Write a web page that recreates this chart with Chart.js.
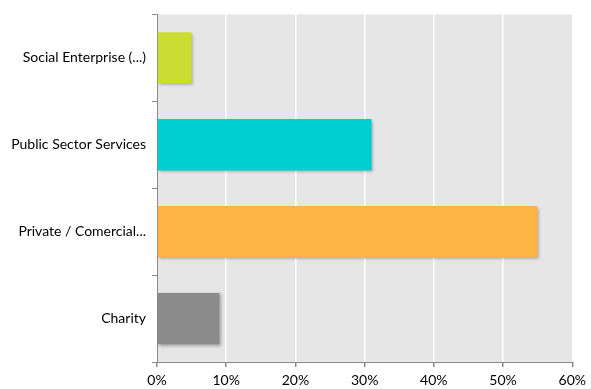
<!DOCTYPE html>
<html>
<head>
<meta charset="utf-8">
<script src="https://cdn.jsdelivr.net/npm/chart.js@4"></script>
<style>
  html, body { margin: 0; padding: 0; background: #fff; }
  #wrap { width: 591px; height: 389px; }
</style>
</head>
<body>
<div id="wrap"><canvas id="chart" width="591" height="389"></canvas></div>
<script>
const categories = ['Social Enterprise (...)', 'Public Sector Services', 'Private / Comercial...', 'Charity'];
const shares = [5, 31, 55, 9];
const barColors = ['#cbdc33', '#00cfcf', '#fdb443', '#8b8b8b'];
const xTicks = [0, 10, 20, 30, 40, 50, 60];

// grey plot background behind the grid
const plotBackground = {
  id: 'plotBackground',
  beforeDraw(chart) {
    const { ctx, chartArea: a } = chart;
    ctx.save();
    ctx.fillStyle = '#e6e6e6';
    ctx.fillRect(a.left, a.top, a.right - a.left, a.bottom - a.top);
    ctx.restore();
  }
};

// soft drop shadow under the bars
const barShadow = {
  id: 'barShadow',
  beforeDatasetsDraw(chart) {
    const ctx = chart.ctx;
    ctx.save();
    ctx.shadowColor = 'rgba(0,0,0,0.3)';
    ctx.shadowOffsetX = 1.5;
    ctx.shadowOffsetY = 1.5;
    ctx.shadowBlur = 3;
  },
  afterDatasetsDraw(chart) {
    chart.ctx.restore();
  }
};

const font = { family: 'Lato, "Open Sans", sans-serif', size: 14 };

new Chart(document.getElementById('chart'), {
  type: 'bar',
  data: {
    labels: categories,
    datasets: [{
      data: shares,
      backgroundColor: barColors,
      borderWidth: 0,
      barPercentage: 0.59,
      categoryPercentage: 1.0
    }]
  },
  options: {
    indexAxis: 'y',
    responsive: false,
    animation: false,
    layout: { padding: { top: 14, right: 17, left: 0, bottom: 0 } },
    plugins: { legend: { display: false }, tooltip: { enabled: false } },
    scales: {
      x: {
        min: 0,
        max: 60,
        afterBuildTicks(scale) {
          scale.ticks = xTicks.map(v => ({ value: v }));
        },
        afterFit(scale) { scale.height = 27; },
        grid: {
          color: '#ffffff',
          lineWidth: 1.5,
          tickColor: '#8a8a8a',
          tickLength: 5,
          drawTicks: true
        },
        border: { display: true, color: '#8a8a8a', width: 1 },
        ticks: {
          color: '#000',
          font: font,
          padding: 5,
          maxRotation: 0,
          callback: v => v + '%'
        }
      },
      y: {
        afterFit(scale) { scale.width = 157; },
        grid: {
          offset: true,
          drawOnChartArea: false,
          tickColor: '#8a8a8a',
          tickLength: 5
        },
        border: { display: true, color: '#8a8a8a', width: 1 },
        ticks: {
          color: '#000',
          font: font,
          padding: 6
        }
      }
    }
  },
  plugins: [plotBackground, barShadow]
});
</script>
</body>
</html>
